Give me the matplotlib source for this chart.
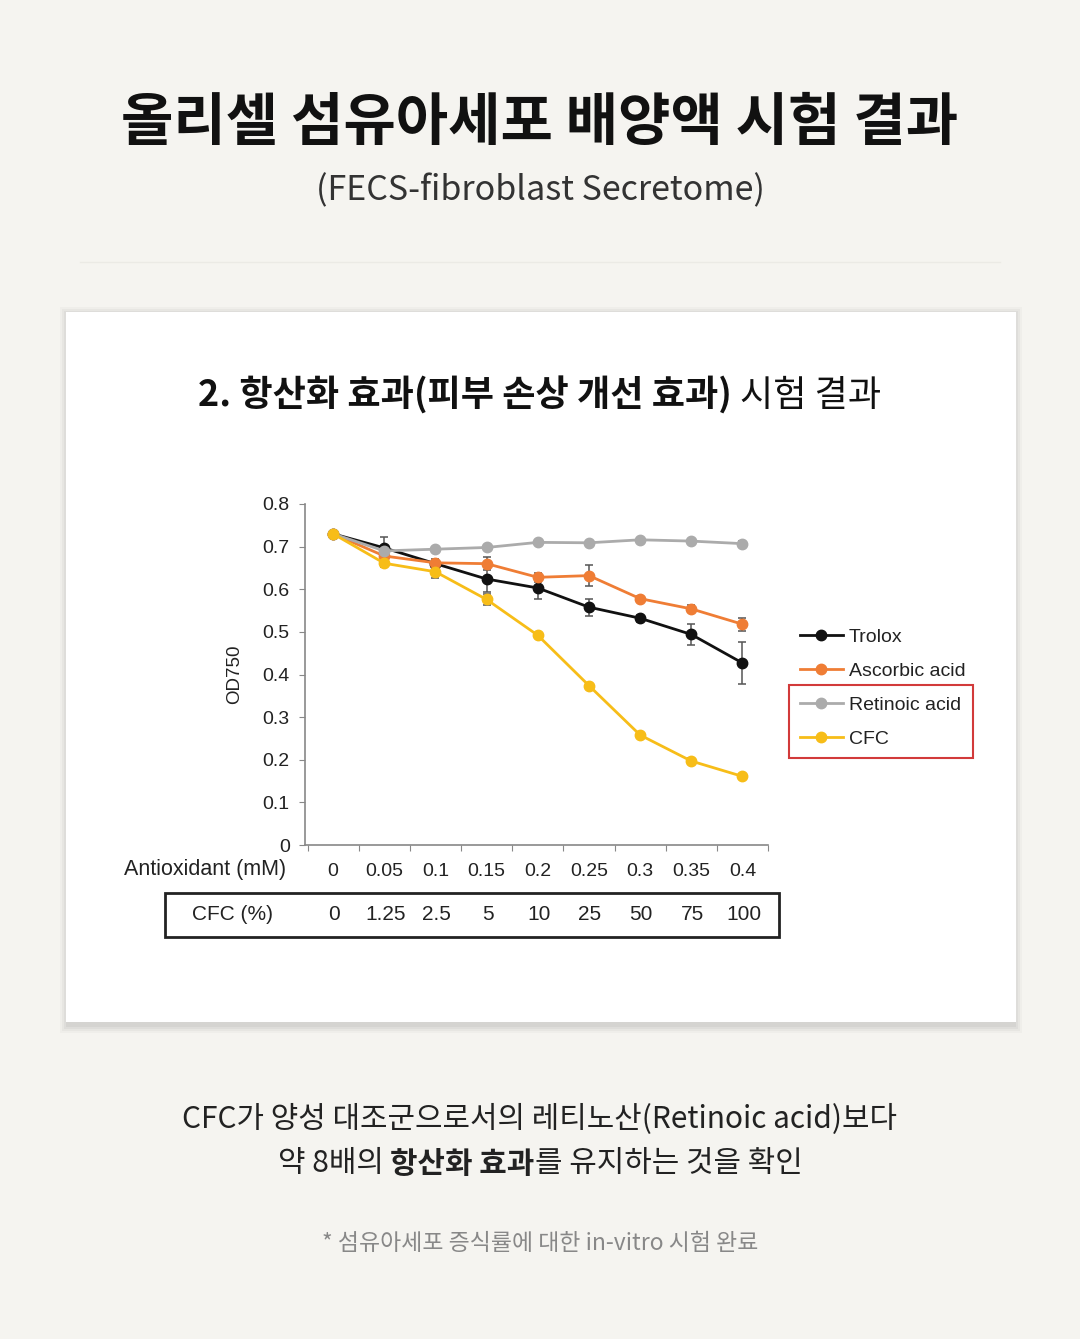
import matplotlib
matplotlib.use('Agg')
import matplotlib.pyplot as plt
from matplotlib.patches import Rectangle
from matplotlib.transforms import blended_transform_factory

# ----- Data -----
antioxidant_mm = ['0', '0.05', '0.1', '0.15', '0.2', '0.25', '0.3', '0.35', '0.4']
cfc_percent = ['0', '1.25', '2.5', '5', '10', '25', '50', '75', '100']

trolox = [0.730, 0.697, 0.660, 0.624, 0.603, 0.558, 0.532, 0.494, 0.427]
trolox_err = [0.004, 0.025, 0.006, 0.030, 0.025, 0.020, 0.008, 0.025, 0.050]
ascorbic = [0.730, 0.678, 0.662, 0.660, 0.628, 0.632, 0.578, 0.554, 0.518]
ascorbic_err = [0.004, 0.006, 0.008, 0.015, 0.010, 0.025, 0.006, 0.008, 0.015]
retinoic = [0.730, 0.690, 0.694, 0.698, 0.710, 0.709, 0.716, 0.713, 0.707]
retinoic_err = [0.004, 0.006, 0.005, 0.005, 0.005, 0.004, 0.005, 0.004, 0.006]
cfc = [0.730, 0.661, 0.641, 0.576, 0.492, 0.374, 0.258, 0.197, 0.161]
cfc_err = [0.004, 0.008, 0.015, 0.012, 0.005, 0.005, 0.005, 0.006, 0.006]

series = [
    ('Trolox', trolox, trolox_err, '#111111'),
    ('Ascorbic acid', ascorbic, ascorbic_err, '#ef7d35'),
    ('Retinoic acid', retinoic, retinoic_err, '#ababab'),
    ('CFC', cfc, cfc_err, '#f7bd18'),
]

W, H = 1080, 1339
KR = ['Noto Sans CJK KR', 'DejaVu Sans']
ARIAL = ['Liberation Sans', 'DejaVu Sans']

fig = plt.figure(figsize=(W / 100, H / 100), dpi=100)
fig.patch.set_facecolor('#f5f4f0')

def fx(px):
    return px / W

def fy(py):
    return 1 - py / H

# ----- Header -----
fig.text(0.5, fy(123), '올리셀 섬유아세포 배양액 시험 결과', ha='center', va='center',
         fontsize=41, fontweight='heavy', family=KR, color='#111111')
fig.text(0.5, fy(191), '(FECS-fibroblast Secretome)', ha='center', va='center',
         fontsize=24.5, fontweight='light', family=KR, color='#333333')
fig.add_artist(plt.Line2D([fx(80), fx(1000)], [fy(262), fy(262)], color='#ebeae5', lw=1))

# ----- Card with soft shadow -----
for i, a in enumerate([0.025, 0.03, 0.035, 0.04]):
    off = 8 - 2 * i
    fig.patches.append(Rectangle((fx(66 - off + 2), fy(1022 + off + 3)), fx(950 + 2 * off - 4), (710 + 2 * off) / H,
                                 transform=fig.transFigure, facecolor='black', alpha=a, edgecolor='none', zorder=0))
fig.patches.append(Rectangle((fx(66), fy(1022)), fx(950), 710 / H, transform=fig.transFigure,
                             facecolor='white', edgecolor='none', zorder=1))

# card title: bold part + regular part
renderer = fig.canvas.get_renderer()
t1 = fig.text(0, fy(396), '2. 항산화 효과(피부 손상 개선 효과) ', ha='left', va='center',
              fontsize=26, fontweight='bold', family=KR, color='#111111', zorder=3)
t2 = fig.text(0, fy(396), '시험 결과', ha='left', va='center',
              fontsize=26, fontweight='normal', family=KR, color='#111111', zorder=3)
w1 = t1.get_window_extent(renderer).width
w2 = t2.get_window_extent(renderer).width
x0 = (W - w1 - w2) / 2
t1.set_x(fx(x0))
t2.set_x(fx(x0 + w1))

# ----- Chart -----
ax = fig.add_axes([fx(305), fy(845), fx(768 - 305), (845 - 504) / H], zorder=2)
ax.set_facecolor('none')
xs = list(range(len(antioxidant_mm)))
handles = []
for name, vals, err, col in series:
    ax.errorbar(xs, vals, yerr=err, fmt='none', ecolor='#555555', elinewidth=1.1, capsize=3, capthick=1.1, zorder=3)
    h, = ax.plot(xs, vals, color=col, lw=2.0, marker='o', markersize=7.5, label=name, zorder=4)
    handles.append(h)

ax.set_xlim(-0.55, 8.5)
ax.set_ylim(0, 0.8)
ax.set_yticks([0, 0.1, 0.2, 0.3, 0.4, 0.5, 0.6, 0.7, 0.8])
ax.set_yticklabels(['0', '0.1', '0.2', '0.3', '0.4', '0.5', '0.6', '0.7', '0.8'], family=ARIAL, fontsize=14, color='#222222')
ax.set_xticks([i - 0.5 for i in range(10)])
ax.set_xticklabels([])
ax.set_xticks(xs, antioxidant_mm, minor=True)
ax.tick_params(axis='x', which='minor', length=0, pad=13, labelsize=14, labelcolor='#222222')
ax.tick_params(axis='x', which='major', length=4, color='#888888', direction='out')
ax.tick_params(axis='y', length=4, color='#888888', direction='out', pad=7)
for lab in ax.get_xticklabels(minor=True):
    lab.set_family(ARIAL)
for s in ['top', 'right']:
    ax.spines[s].set_visible(False)
for s in ['left', 'bottom']:
    ax.spines[s].set_color('#888888')
    ax.spines[s].set_linewidth(1.2)
ax.set_ylabel('OD750', family=ARIAL, fontsize=13.5, color='#222222', labelpad=14)

fig.text(fx(205), fy(869), 'Antioxidant (mM)', ha='center', va='center', family=ARIAL, fontsize=15.5, color='#222222', zorder=3)

# CFC row in a box
tr = blended_transform_factory(ax.transData, fig.transFigure)
for i, lab in enumerate(cfc_percent):
    ax.text(i + 0.02, fy(915), lab, transform=tr, ha='center', va='center', family=ARIAL, fontsize=15, color='#222222', clip_on=False)
fig.text(fx(233), fy(914), 'CFC (%)', ha='center', va='center', family=ARIAL, fontsize=15, color='#222222', zorder=3)
fig.patches.append(Rectangle((fx(165), fy(937)), fx(779 - 165), (937 - 893) / H, transform=fig.transFigure,
                             facecolor='none', edgecolor='#222222', lw=2, zorder=3))

# legend
leg = ax.legend(handles=handles, loc='upper left', bbox_to_anchor=(fx(800), fy(628)), bbox_transform=fig.transFigure,
                frameon=False, prop={'family': ARIAL, 'size': 14}, handlelength=2.2, handletextpad=0.3,
                labelspacing=0.85, borderaxespad=0, borderpad=0)
for t in leg.get_texts():
    t.set_color('#222222')
fig.patches.append(Rectangle((fx(789), fy(758)), fx(973 - 789), (758 - 685) / H, transform=fig.transFigure,
                             facecolor='none', edgecolor='#d23a3a', lw=1.5, zorder=3))

# ----- Bottom text -----
fig.text(0.5, fy(1119), 'CFC가 양성 대조군으로서의 레티노산(Retinoic acid)보다', ha='center', va='center',
         fontsize=21.5, family=KR, color='#222222')
parts = [('약 8배의 ', 'normal'), ('항산화 효과', 'bold'), ('를 유지하는 것을 확인', 'normal')]
texts = []
for s, wgt in parts:
    texts.append(fig.text(0, fy(1164), s, ha='left', va='center', fontsize=21.5, fontweight=wgt, family=KR, color='#222222'))
widths = [t.get_window_extent(renderer).width for t in texts]
x = (W - sum(widths)) / 2
for t, w in zip(texts, widths):
    t.set_x(fx(x))
    x += w

fig.text(0.5, fy(1243), '* 섬유아세포 증식률에 대한 in-vitro 시험 완료', ha='center', va='center',
         fontsize=16.5, family=KR, color='#888888')

fig.savefig('out.png', dpi=100, facecolor=fig.get_facecolor())
